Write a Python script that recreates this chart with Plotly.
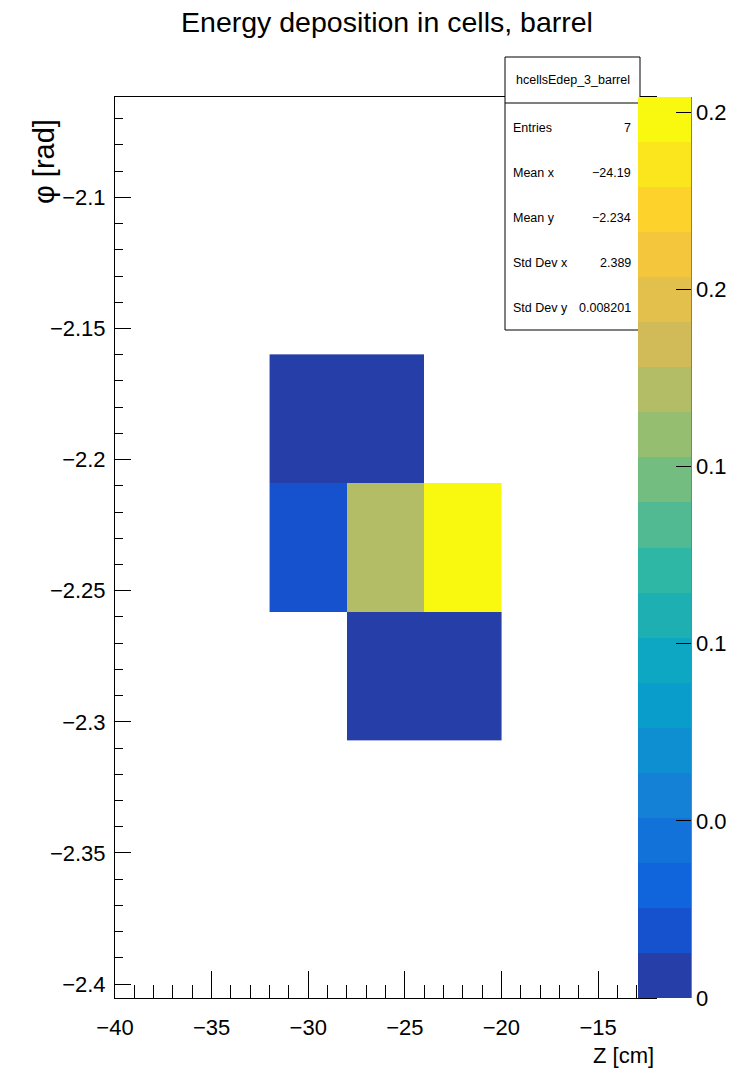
import math
import plotly.graph_objects as go

# ---------------- data ----------------
cell_z = [-30, -26, -30, -26, -22, -26, -22]                     # cell centres, Z [cm]
cell_phi = [-2.1844, -2.1844, -2.2335, -2.2335, -2.2335, -2.2826, -2.2826]  # cell centres, phi [rad]
cell_edep = [0.0035, 0.0025, 0.016, 0.137, 0.2034, 0.004, 0.0055]

x_range = [-40, -12]
y_range = [-2.4053, -2.0617]
cbar_tickvals = [0, 0.04, 0.08, 0.12, 0.16, 0.2]
cbar_ticktext = ["0", "0.0", "0.1", "0.1", "0.2", "0.2"]

stats_name = "hcellsEdep_3_barrel"
stats_labels = ["Entries", "Mean x", "Mean y", "Std Dev x", "Std Dev y"]
stats_values = ["7", "\u221224.19", "\u22122.234", "2.389", "0.008201"]

# ---------------- ROOT kBird palette, 20 contours ----------------
stops = [0.0, 0.125, 0.25, 0.375, 0.5, 0.625, 0.75, 0.875, 1.0]
red = [0.2082, 0.0592, 0.0780, 0.0232, 0.1802, 0.5301, 0.8186, 0.9956, 0.9764]
green = [0.1664, 0.3599, 0.5041, 0.6419, 0.7178, 0.7492, 0.7328, 0.7862, 0.9832]
blue = [0.5293, 0.8684, 0.8385, 0.7914, 0.6425, 0.4662, 0.3499, 0.1968, 0.0539]
NCOL = 255
palette = []
for g in range(1, len(stops)):
    n = int(math.floor(NCOL * stops[g]) - math.floor(NCOL * stops[g - 1]))
    for c in range(n):
        r = red[g - 1] + c * (red[g] - red[g - 1]) / n
        gg = green[g - 1] + c * (green[g] - green[g - 1]) / n
        b = blue[g - 1] + c * (blue[g] - blue[g - 1]) / n
        palette.append((r, gg, b))
NDIV = 20
band_colors = []
for i in range(NDIV):
    idx = min(int((i + 0.99) * NCOL / NDIV), len(palette) - 1)
    r, gg, b = palette[idx]
    band_colors.append("rgb(%d,%d,%d)" % (round(r * 255), round(gg * 255), round(b * 255)))
colorscale = []
for i, col in enumerate(band_colors):
    colorscale.append([i / NDIV, col])
    colorscale.append([(i + 1) / NDIV, col])

zmax = max(cell_edep)

# ---------------- grid ----------------
xs = sorted(set(cell_z))
ys = sorted(set(cell_phi))
grid = [[None for _ in xs] for _ in ys]
for zc, pc, v in zip(cell_z, cell_phi, cell_edep):
    grid[ys.index(pc)][xs.index(zc)] = v

# ---------------- geometry (screen pixels) ----------------
W, H = 743, 1071
L, R, T, B = 115, 656, 97, 998
PW, PH = R - L, B - T


def px(x):
    return (x - L) / PW


def py(y):
    return (B - y) / PH


FONT = "Liberation Sans, Arial, Helvetica, sans-serif"

fig = go.Figure()
fig.add_trace(go.Heatmap(
    x=xs, y=ys, z=grid, zmin=0, zmax=zmax, zsmooth=False,
    colorscale=colorscale, hoverongaps=False,
    colorbar=dict(
        x=px(638), xanchor="left", xref="paper", xpad=0,
        y=0, yanchor="bottom", len=1, lenmode="fraction", ypad=0,
        thickness=53, thicknessmode="pixels", outlinewidth=0,
        tickmode="array", tickvals=cbar_tickvals, ticktext=cbar_ticktext,
        ticks="inside", ticklen=15, tickcolor="black", tickwidth=1,
        tickfont=dict(family=FONT, size=22, color="black"),
    ),
))

shapes = []
# palette axis line
shapes.append(dict(type="line", xref="paper", yref="paper", x0=px(691), x1=px(691),
                   y0=0, y1=1, line=dict(color="black", width=1), layer="above"))
# stats box
shapes.append(dict(type="rect", xref="paper", yref="paper", x0=px(505), x1=px(640),
                   y0=py(330), y1=py(57), line=dict(color="black", width=1),
                   fillcolor="white", layer="above"))
shapes.append(dict(type="line", xref="paper", yref="paper", x0=px(505), x1=px(640),
                   y0=py(103), y1=py(103), line=dict(color="black", width=1), layer="above"))

ann = []
ann.append(dict(text=stats_name, xref="paper", yref="paper", x=px(572.5), y=py(80),
                xanchor="center", yanchor="middle", showarrow=False,
                font=dict(family=FONT, size=12.5, color="black")))
for k, (lab, val) in enumerate(zip(stats_labels, stats_values)):
    yy = 128 + 45 * k
    ann.append(dict(text=lab, xref="paper", yref="paper", x=px(511), y=py(yy),
                    xanchor="left", yanchor="middle", showarrow=False,
                    font=dict(family=FONT, size=12.5, color="black")))
    ann.append(dict(text=val, xref="paper", yref="paper", x=px(633), y=py(yy),
                    xanchor="right", yanchor="middle", showarrow=False,
                    font=dict(family=FONT, size=12.5, color="black")))
# axis titles
ann.append(dict(text="Z [cm]", xref="paper", yref="paper", x=1.0, y=py(1055),
                xanchor="right", yanchor="middle", showarrow=False,
                font=dict(family=FONT, size=22, color="black")))
ann.append(dict(text="\u03c6 [rad]", xref="paper", yref="paper", x=px(44), y=py(162),
                xanchor="center", yanchor="middle", showarrow=False, textangle=-90,
                font=dict(family=FONT, size=29, color="black")))

fig.update_layout(
    width=W, height=H,
    margin=dict(l=L, r=W - R, t=T, b=H - B, autoexpand=False),
    paper_bgcolor="white", plot_bgcolor="white",
    title=dict(text="Energy deposition in cells, barrel", x=px(387), xref="paper",
               xanchor="center", y=1 - 22 / H, yref="container", yanchor="middle",
               font=dict(family=FONT, size=28.5, color="black")),
    shapes=shapes, annotations=ann,
    xaxis=dict(range=x_range, showgrid=False, zeroline=False,
               showline=True, mirror=True, linecolor="black", linewidth=1,
               ticks="inside", ticklen=27, tickcolor="black", tickwidth=1,
               tick0=-40, dtick=5, ticklabelstandoff=10,
               minor=dict(dtick=1, ticks="inside", ticklen=13, tickcolor="black", tickwidth=1, showgrid=False),
               tickfont=dict(family=FONT, size=22, color="black")),
    yaxis=dict(range=y_range, showgrid=False, zeroline=False,
               showline=True, mirror=True, linecolor="black", linewidth=1,
               ticks="inside", ticklen=16, tickcolor="black", tickwidth=1,
               tick0=0, dtick=0.05, ticklabelstandoff=4,
               minor=dict(dtick=0.01, ticks="inside", ticklen=8, tickcolor="black", tickwidth=1, showgrid=False),
               tickfont=dict(family=FONT, size=22, color="black")),
)

fig.write_html("out.html", config={"displayModeBar": False, "staticPlot": True},
               post_script="document.body.style.margin='0px';")
